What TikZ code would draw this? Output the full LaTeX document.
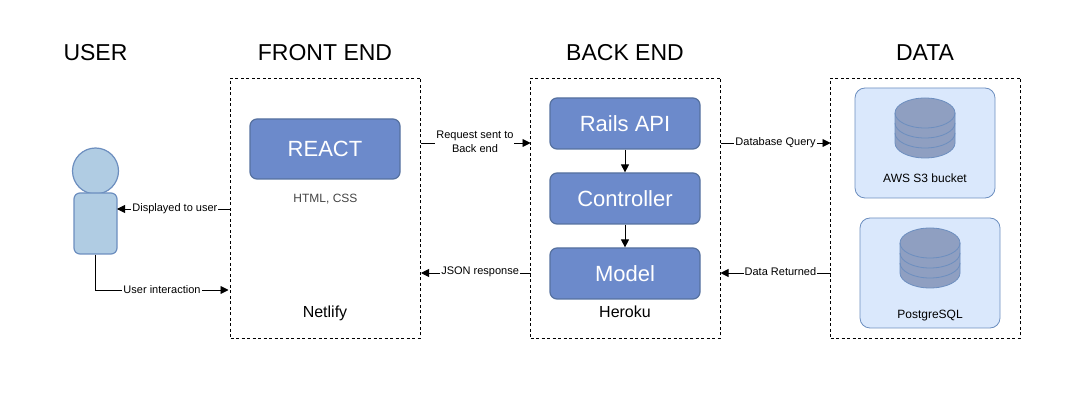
\documentclass[tikz,border=0pt]{standalone}
\usepackage{fontspec}
\setmainfont{Liberation Sans}
\usetikzlibrary{arrows.meta}
\definecolor{boxblue}{HTML}{6C8ACB}
\definecolor{boxline}{HTML}{56719F}
\definecolor{userblue}{HTML}{B0CCE3}
\definecolor{lineblue}{HTML}{6C8EBF}
\definecolor{paleblue}{HTML}{DAE8FC}
\definecolor{storeblue}{HTML}{8F9FC1}
\definecolor{softgray}{HTML}{444444}
\tikzset{
  title/.style={font=\fontsize{23}{27}\selectfont},
  tier/.style={draw,dashed,dash pattern=on 3pt off 2.5pt,line width=0.8pt,minimum width=190pt,minimum height=260pt},
  service/.style={draw=boxline,fill=boxblue,rounded corners=7pt,line width=1.2pt,minimum width=150pt,text=white,font=\fontsize{22}{26}\selectfont},
  store/.style={draw=lineblue,fill=paleblue,rounded corners=10pt,line width=0.8pt,minimum width=140pt,minimum height=110pt},
  label/.style={font=\fontsize{11}{14.5}\selectfont,fill=white,inner sep=1pt,align=center},
  note/.style={font=\fontsize{16}{19}\selectfont},
  flow/.style={-{Triangle[length=8pt,width=8pt]},line width=0.9pt},
  datastore/.pic={
    \path[fill=storeblue,draw=lineblue,line width=0.8pt]
      (-30,-15) arc[start angle=180,end angle=0,x radius=30,y radius=-15]
      -- (30,15) arc[start angle=0,end angle=-180,x radius=30,y radius=-15] -- cycle;
    \foreach \level in {-15,-5,5}
      \draw[lineblue,line width=0.8pt] (-30,\level) arc[start angle=180,end angle=360,x radius=30,y radius=-15];
  }
}
\begin{document}
\begin{tikzpicture}[x=1pt,y=-1pt]
  \useasboundingbox (0,0) rectangle (1081,419);
  % column headings
  \node[title] (usertitle) at (95.5,53) {USER};
  \node[title] (fronttitle) at (325,53) {FRONT END};
  \node[title] (backtitle) at (625,53) {BACK END};
  \node[title] (datatitle) at (925,53) {DATA};
  % dashed tiers
  \node[tier] (front) at (325.5,208) {};
  \node[tier] (back) at (625.5,208) {};
  \node[tier] (data) at (925.5,208) {};
  % user
  \node[draw=lineblue,fill=userblue,circle,line width=1.2pt,minimum size=46pt,inner sep=0pt] (userhead) at (95.5,171) {};
  \node[draw=lineblue,fill=userblue,rounded corners=6pt,line width=1.2pt,minimum width=43pt,minimum height=61pt] (userbody) at (95.5,223.5) {};
  % front end
  \node[service,minimum height=60pt] (react) at (325,149) {REACT};
  \node[text=softgray,font=\fontsize{12}{14}\selectfont] (markup) at (325.5,199) {HTML, CSS};
  \node[note] (netlify) at (325,313) {Netlify};
  % back end
  \node[service,minimum height=51pt] (rails) at (625,123.5) {Rails API};
  \node[service,minimum height=51pt] (controller) at (625,198.5) {Controller};
  \node[service,minimum height=51pt] (model) at (625,273.5) {Model};
  \node[note] (heroku) at (625,312) {Heroku};
  % data
  \node[store] (bucket) at (925,143) {};
  \node[store] (postgres) at (930,273) {};
  \pic at (925,128) {datastore};
  \pic at (930,258) {datastore};
  \node[label,fill=none,font=\fontsize{12}{14}\selectfont] (bucketname) at (925,178) {AWS S3 bucket};
  \node[label,fill=none,font=\fontsize{12}{14}\selectfont] (postgresname) at (930,316) {PostgreSQL};
  % ends of the connectors on the tier borders
  \coordinate (shownstart) at (230.5,209);
  \coordinate (shownend) at (117,209);
  \coordinate (clickbend) at (95.5,290);
  \coordinate (clickend) at (228.5,290);
  \coordinate (reqstart) at (420.5,143);
  \coordinate (reqend) at (530.5,143);
  \coordinate (jsonstart) at (530.5,273);
  \coordinate (jsonend) at (421,273);
  \coordinate (querystart) at (720.5,143);
  \coordinate (queryend) at (830.5,143);
  \coordinate (backstart) at (830.5,273);
  \coordinate (backend) at (720.5,273);
  % connectors
  \draw[flow] (shownstart) to node[label,pos=0.49] (shownlabel) {Displayed to user} (shownend);
  \draw[flow] (userbody.south) |- (clickbend) -- node[label,pos=0.5] (clicklabel) {User interaction} (clickend);
  \draw[flow] (reqstart) to node[label,pos=0.495,inner ysep=3pt,yshift=1pt] (reqlabel) {Request sent to\\Back end} (reqend);
  \draw[flow] (jsonstart) to node[label,pos=0.46,yshift=1.5pt] (jsonlabel) {JSON response} (jsonend);
  \draw[flow] (rails) to (controller);
  \draw[flow] (controller) to (model);
  \draw[flow] (querystart) to node[label,pos=0.5] (querylabel) {Database Query} (queryend);
  \draw[flow] (backstart) to node[label,pos=0.455,yshift=1.5pt] (backlabel) {Data Returned} (backend);
\end{tikzpicture}
\end{document}
